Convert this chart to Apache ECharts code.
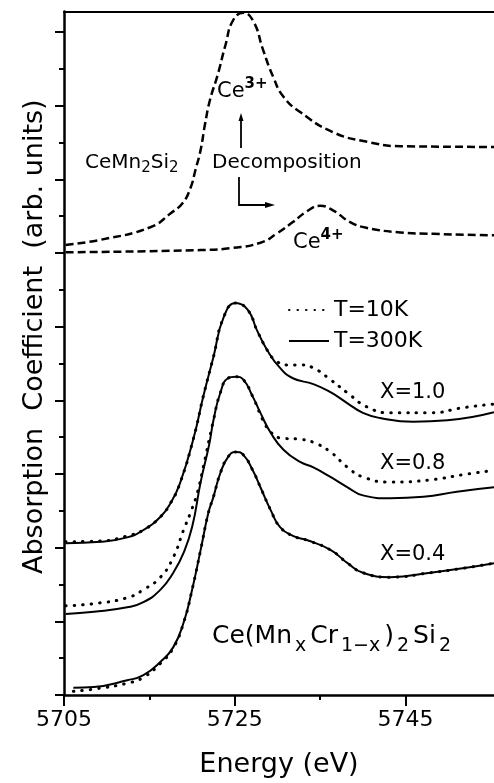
<!DOCTYPE html>
<html><head><meta charset="utf-8">
<script src="https://cdn.jsdelivr.net/npm/echarts@6/dist/echarts.min.js"></script>
<style>html,body{margin:0;padding:0;background:#fff}#c{width:494px;height:783px}</style>
</head><body><div id="c"></div><script>
// ---- data (energy in eV, absorption in arb. units) ----
const energyCe3 = [5705.2, 5709.3, 5715.1, 5717.5, 5718.9, 5719.8, 5720.4, 5721.0, 5721.5, 5722.1, 5723.0, 5723.9, 5724.8, 5726.0, 5727.2, 5728.3, 5729.5, 5730.7, 5732.7, 5736.5, 5740.5, 5744.4, 5755.35];
const absCe3    = [6.11, 6.18, 6.35, 6.54, 6.68, 6.88, 7.13, 7.40, 7.74, 8.08, 8.42, 8.82, 9.16, 9.26, 9.14, 8.76, 8.39, 8.12, 7.91, 7.64, 7.51, 7.45, 7.44];

const energyCe4 = [5705.2, 5721.0, 5724.8, 5728.0, 5730.0, 5731.8, 5733.5, 5735.0, 5736.5, 5738.5, 5740.5, 5744.4, 5748.2, 5755.35];
const absCe4    = [6.01, 6.04, 6.07, 6.14, 6.27, 6.42, 6.57, 6.64, 6.58, 6.42, 6.34, 6.28, 6.26, 6.24];

const energyX10_300 = [5705.2, 5709.3, 5712.4, 5714.3, 5716.3, 5717.5, 5718.6, 5720.2, 5721.3, 5722.5, 5723.7, 5725.1, 5726.5, 5727.6, 5728.8, 5730.3, 5731.8, 5734.2, 5736.2, 5738.2, 5740.0, 5742.0, 5745.9, 5749.9, 5755.35];
const absX10_300    = [2.06, 2.08, 2.14, 2.24, 2.42, 2.61, 2.88, 3.50, 4.05, 4.59, 5.13, 5.32, 5.23, 4.95, 4.68, 4.44, 4.30, 4.22, 4.11, 3.96, 3.83, 3.76, 3.71, 3.73, 3.84];

const energyX10_10 = [5705.2, 5709.3, 5712.4, 5714.3, 5716.3, 5717.5, 5718.6, 5720.2, 5721.3, 5722.5, 5723.7, 5725.1, 5726.5, 5727.6, 5728.8, 5729.5, 5731.1, 5732.7, 5734.2, 5736.2, 5738.2, 5740.5, 5743.2, 5747.9, 5751.7, 5755.35];
const absX10_10    = [2.08, 2.09, 2.16, 2.24, 2.42, 2.61, 2.88, 3.50, 4.05, 4.59, 5.13, 5.32, 5.23, 4.95, 4.68, 4.57, 4.48, 4.48, 4.44, 4.28, 4.10, 3.91, 3.83, 3.83, 3.90, 3.95];

const energyX08_300 = [5705.2, 5708.5, 5712.4, 5714.3, 5716.3, 5717.8, 5719.0, 5720.0, 5721.0, 5722.0, 5722.5, 5723.3, 5724.2, 5725.1, 5726.0, 5727.1, 5728.0, 5729.2, 5730.7, 5732.7, 5734.2, 5736.2, 5738.2, 5740.0, 5743.2, 5747.1, 5751.0, 5755.35];
const absX08_300    = [1.10, 1.13, 1.19, 1.26, 1.43, 1.66, 1.93, 2.28, 2.89, 3.40, 3.73, 4.10, 4.30, 4.32, 4.28, 4.05, 3.83, 3.56, 3.33, 3.16, 3.09, 2.96, 2.82, 2.71, 2.67, 2.69, 2.76, 2.82];

const energyX08_10 = [5705.2, 5708.5, 5712.4, 5714.3, 5716.3, 5717.8, 5719.0, 5719.8, 5720.6, 5721.3, 5722.5, 5723.3, 5724.2, 5725.1, 5726.0, 5727.1, 5728.3, 5729.2, 5730.3, 5732.7, 5734.2, 5736.2, 5738.2, 5740.0, 5743.2, 5747.9, 5751.7, 5755.35];
const absX08_10    = [1.21, 1.24, 1.32, 1.43, 1.60, 1.87, 2.24, 2.47, 2.74, 3.09, 3.73, 4.10, 4.30, 4.32, 4.28, 4.05, 3.73, 3.57, 3.49, 3.47, 3.43, 3.30, 3.09, 2.96, 2.89, 2.92, 2.99, 3.05];

const energyX04_300 = [5706.1, 5708.5, 5712.4, 5714.3, 5716.3, 5717.8, 5719.0, 5720.0, 5721.0, 5721.9, 5722.5, 5723.3, 5724.2, 5725.1, 5726.0, 5727.1, 5728.0, 5729.2, 5730.3, 5731.8, 5733.5, 5736.2, 5738.2, 5740.0, 5743.2, 5747.9, 5751.7, 5755.35];
const absX04_300    = [0.10, 0.11, 0.20, 0.27, 0.45, 0.65, 0.98, 1.43, 1.97, 2.47, 2.69, 3.01, 3.23, 3.30, 3.26, 3.05, 2.82, 2.51, 2.28, 2.16, 2.10, 1.97, 1.79, 1.66, 1.60, 1.66, 1.72, 1.79];

const energyX04_10 = [5706.1, 5708.5, 5712.4, 5714.3, 5716.3, 5717.8, 5719.0, 5720.0, 5721.0, 5721.9, 5722.5, 5723.3, 5724.2, 5725.1, 5726.0, 5727.1, 5728.0, 5729.2, 5730.3, 5731.8, 5733.5, 5736.2, 5738.2, 5740.0, 5743.2, 5747.9, 5751.7, 5755.35];
const absX04_10    = [0.05, 0.08, 0.16, 0.24, 0.43, 0.64, 0.98, 1.43, 1.97, 2.47, 2.69, 3.01, 3.23, 3.30, 3.26, 3.05, 2.82, 2.51, 2.28, 2.16, 2.10, 1.97, 1.79, 1.66, 1.60, 1.66, 1.72, 1.79];

const xTickLabels = [5705, 5725, 5745];
const xMinorTicks = [5715, 5735];
const yMajorTicks = [0, 1, 2, 3, 4, 5, 6, 7, 8, 9];
const yMinorTicks = [0.5, 1.5, 2.5, 3.5, 4.5, 5.5, 6.5, 7.5, 8.5];
const legendNames = ['T=10K', 'T=300K'];

// ---- chart ----
const zip = (xs, ys) => xs.map((x, i) => [x, ys[i]]);
const FONT = 'DejaVu Sans';
const X_MIN = 5705, X_MAX = 5755.35, Y_MIN = 0, Y_MAX = 9.28;

const dashed = { color: '#000', width: 2.5, type: [8, 4] };
const dotted = { color: '#000', width: 3, type: [0.5, 8], cap: 'round' };
const solid  = { color: '#000', width: 2 };

function line(name, data, style) {
  return { type: 'line', name, data, xAxisIndex: 0, yAxisIndex: 0, symbol: 'none',
           smooth: 0.5, lineStyle: style,
           itemStyle: { color: '#000', opacity: 0 }, silent: true };
}

const chart = echarts.init(document.getElementById('c'), null, { renderer: 'canvas' });
chart.setOption({
  animation: false,
  backgroundColor: '#fff',
  grid: { left: 64, right: 0, top: 11.4, bottom: 88, containLabel: false, outerBoundsMode: 'none' },
  legend: {
    data: legendNames, orient: 'vertical', left: 283, top: 294,
    itemWidth: 40, itemHeight: 14, itemGap: 9,
    itemStyle: { opacity: 0 },
    textStyle: { fontFamily: FONT, fontSize: 22, color: '#000' },
    selectedMode: false
  },
  xAxis: [
    { type: 'value', min: X_MIN, max: X_MAX, position: 'bottom',
      name: 'Energy (eV)', nameLocation: 'middle', nameGap: 56,
      nameTextStyle: { fontFamily: FONT, fontSize: 27, color: '#000' },
      axisLine: { show: true, lineStyle: { color: '#000', width: 2.5 } },
      axisTick: { show: true, customValues: xTickLabels, length: 11, lineStyle: { color: '#000', width: 2 } },
      axisLabel: { customValues: xTickLabels, margin: 14, fontFamily: FONT, fontSize: 22, color: '#000',
                   formatter: v => String(v) },
      splitLine: { show: false } },
    { type: 'value', min: X_MIN, max: X_MAX, position: 'bottom',
      axisLine: { show: false },
      axisTick: { show: true, customValues: xMinorTicks, length: 5, lineStyle: { color: '#000', width: 2 } },
      axisLabel: { show: false }, splitLine: { show: false } },
    { type: 'value', min: X_MIN, max: X_MAX, position: 'top',
      axisLine: { show: true, lineStyle: { color: '#000', width: 2 } },
      axisTick: { show: false }, axisLabel: { show: false }, splitLine: { show: false } }
  ],
  yAxis: [
    { type: 'value', min: Y_MIN, max: Y_MAX, position: 'left',
      name: 'Absorption  Coefficient  (arb. units)', nameLocation: 'middle', nameGap: 16,
      nameTextStyle: { fontFamily: FONT, fontSize: 27, color: '#000', padding: [0, 0, 0, 33] },
      axisLine: { show: true, lineStyle: { color: '#000', width: 2.5 } },
      axisTick: { show: true, customValues: yMajorTicks, length: 9, lineStyle: { color: '#000', width: 2 } },
      axisLabel: { show: false }, splitLine: { show: false } },
    { type: 'value', min: Y_MIN, max: Y_MAX, position: 'left',
      axisLine: { show: false },
      axisTick: { show: true, customValues: yMinorTicks, length: 5, lineStyle: { color: '#000', width: 2 } },
      axisLabel: { show: false }, splitLine: { show: false } }
  ],
  series: [
    line('CeMn₂Si₂ (Ce³⁺)', zip(energyCe3, absCe3), dashed),
    line('Ce⁴⁺', zip(energyCe4, absCe4), dashed),
    line('T=10K', zip(energyX10_10, absX10_10), dotted),
    line('T=300K', zip(energyX10_300, absX10_300), solid),
    line('T=10K', zip(energyX08_10, absX08_10), dotted),
    line('T=300K', zip(energyX08_300, absX08_300), solid),
    line('T=10K', zip(energyX04_10, absX04_10), dotted),
    line('T=300K', zip(energyX04_300, absX04_300), solid)
  ],
  graphic: [
    { type: 'text', left: 85, top: 153, style: {
        text: '{b|CeMn}{s|2}{b|Si}{s|2}', fill: '#000',
        rich: { b: { fontFamily: FONT, fontSize: 20, fill: '#000' },
                s: { fontFamily: FONT, fontSize: 15, fill: '#000', padding: [10, 0, 0, 0] } } } },
    { type: 'text', left: 212, top: 153, style: { text: 'Decomposition', fontFamily: FONT, fontSize: 20, fill: '#000' } },
    { type: 'text', left: 217, top: 77, style: {
        text: '{b|Ce}{p|3+}', fill: '#000',
        rich: { b: { fontFamily: FONT, fontSize: 21, fill: '#000' },
                p: { fontFamily: FONT, fontSize: 15, fontWeight: 'bold', fill: '#000', padding: [0, 0, 14, 0] } } } },
    { type: 'text', left: 293, top: 228, style: {
        text: '{b|Ce}{p|4+}', fill: '#000',
        rich: { b: { fontFamily: FONT, fontSize: 21, fill: '#000' },
                p: { fontFamily: FONT, fontSize: 15, fontWeight: 'bold', fill: '#000', padding: [0, 0, 14, 0] } } } },
    { type: 'text', left: 380, top: 382, style: { text: 'X=1.0', fontFamily: FONT, fontSize: 21, fill: '#000' } },
    { type: 'text', left: 380, top: 453, style: { text: 'X=0.8', fontFamily: FONT, fontSize: 21, fill: '#000' } },
    { type: 'text', left: 380, top: 544, style: { text: 'X=0.4', fontFamily: FONT, fontSize: 21, fill: '#000' } },
    { type: 'text', left: 212, top: 624, style: {
        text: '{b|Ce(Mn}{s|x}{b|Cr}{s|1−x}{b|)}{s|2}{b|Si}{s|2}', fill: '#000',
        rich: { b: { fontFamily: FONT, fontSize: 25, fill: '#000' },
                s: { fontFamily: FONT, fontSize: 19, fill: '#000', padding: [20, 4, 0, 3] } } } },
    // arrows
    { type: 'line', shape: { x1: 241, y1: 148, x2: 241, y2: 119 }, style: { stroke: '#000', lineWidth: 1.8 } },
    { type: 'polygon', shape: { points: [[241, 113], [238.5, 121], [243.5, 121]] }, style: { fill: '#000' } },
    { type: 'polyline', shape: { points: [[239, 177], [239, 205], [267, 205]] }, style: { stroke: '#000', lineWidth: 1.8, fill: null } },
    { type: 'polygon', shape: { points: [[275, 205], [265, 202], [265, 208]] }, style: { fill: '#000' } }
  ]
});
</script></body></html>
